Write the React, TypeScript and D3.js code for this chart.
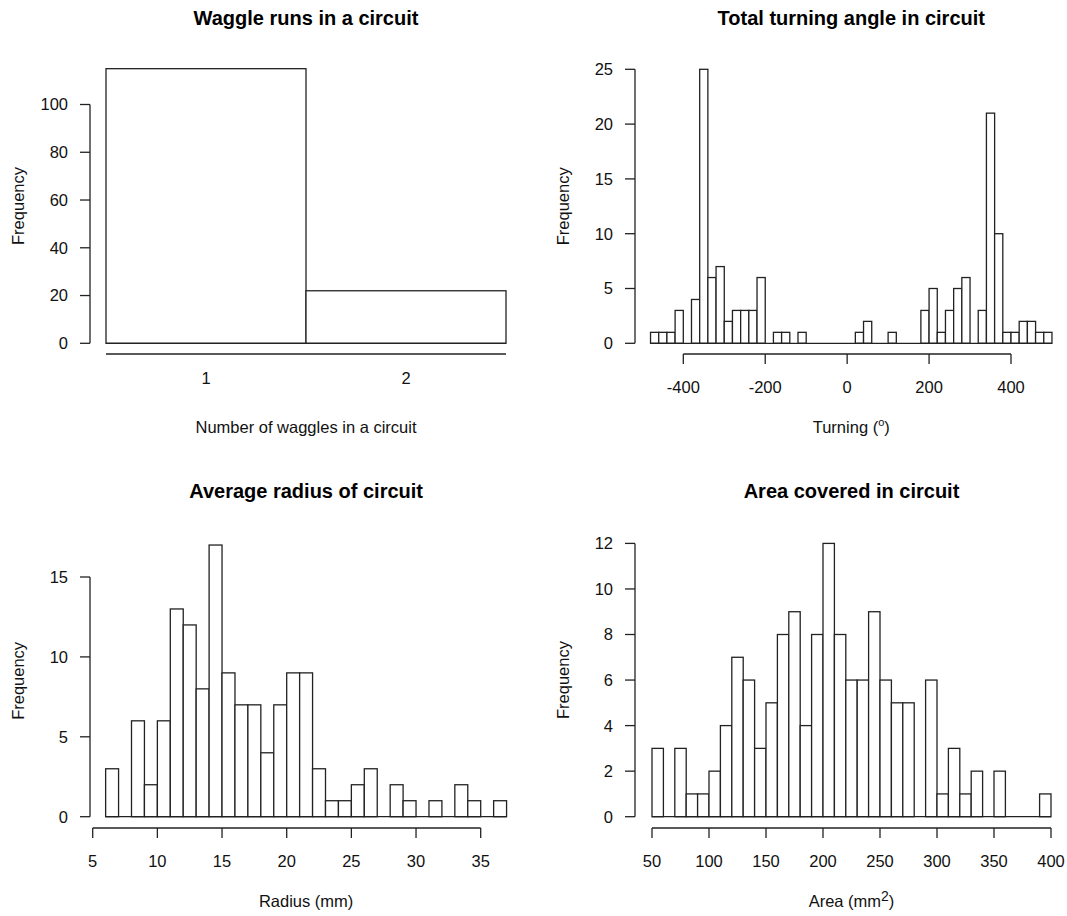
import React from "react";
import * as d3 from "d3";

// Waggle runs in a circuit
const waggleCategories = [1, 2];
const waggleCounts = [115, 22];

// Total turning angle (degrees), 20-degree bins starting at -480
const turningBreaks = d3.range(-480, 501, 20);
const turningCounts = [
  1, 1, 1, 3, 0, 4, 25, 6, 7, 2,
  3, 3, 3, 6, 0, 1, 1, 0, 1, 0,
  0, 0, 0, 0, 0, 1, 2, 0, 0, 1,
  0, 0, 0, 3, 5, 1, 3, 5, 6, 0,
  3, 21, 10, 1, 1, 2, 2, 1, 1,
];

// Average radius (mm), 1 mm bins starting at 6
const radiusBreaks = d3.range(6, 38, 1);
const radiusCounts = [
  3, 0, 6, 2, 6, 13, 12, 8, 17, 9,
  7, 7, 4, 7, 9, 9, 3, 1, 1, 2,
  3, 0, 2, 1, 0, 1, 0, 2, 1, 0, 1,
];

// Area covered (mm^2), 10 mm^2 bins starting at 50
const areaBreaks = d3.range(50, 401, 10);
const areaCounts = [
  3, 0, 3, 1, 1, 2, 4, 7, 6, 3,
  5, 8, 9, 4, 8, 12, 8, 6, 6, 9,
  6, 5, 5, 0, 6, 1, 3, 1, 2, 0,
  2, 0, 0, 0, 1,
];

const turningTicks = [-400, -200, 0, 200, 400];
const radiusTicks = [5, 10, 15, 20, 25, 30, 35];
const areaTicks = [50, 100, 150, 200, 250, 300, 350, 400];

const FONT = "'Liberation Sans', Arial, Helvetica, sans-serif";
const INK = "#222";
const TICK = 10;

type PanelProps = {
  title: string;
  xLabel: React.ReactNode;
  breaks: number[];
  counts: number[];
  xDomain: [number, number];
  xRange: [number, number];
  yDomain: [number, number];
  yRange: [number, number];
  yTicks: number[];
  xTicks: number[];
  xTickLabels?: string[];
  showXTicks: boolean;
  axisLine?: [number, number]; // x-axis extent in data units
  yAxisX: number;
  xAxisY: number;
  xTickLabelY: number;
  titleY: number;
};

const Panel = (p: PanelProps) => {
  const x = d3.scaleLinear().domain(p.xDomain).range(p.xRange);
  const y = d3.scaleLinear().domain(p.yDomain).range(p.yRange);
  const bins = p.counts.map((c, i) => ({ x0: p.breaks[i], x1: p.breaks[i + 1], c }));
  const x0 = x(p.breaks[0]);
  const x1 = x(p.breaks[p.breaks.length - 1]);
  const midX = (x0 + x1) / 2;
  const midY = (y(0) + y(d3.max(p.counts) as number)) / 2;
  const axisExt = p.axisLine ?? [p.xTicks[0], p.xTicks[p.xTicks.length - 1]];
  const yT0 = y(p.yTicks[0]);
  const yT1 = y(p.yTicks[p.yTicks.length - 1]);

  return (
    <g fontFamily={FONT}>
      <text x={midX} y={p.titleY} textAnchor="middle" fontSize={20} fontWeight="bold" fill="#000">
        {p.title}
      </text>

      {bins.map((b, i) =>
        b.c > 0 ? (
          <rect
            key={i}
            x={x(b.x0)}
            y={y(b.c)}
            width={x(b.x1) - x(b.x0)}
            height={y(0) - y(b.c)}
            fill="white"
            stroke={INK}
            strokeWidth={1.3}
          />
        ) : null
      )}
      {/* baseline between bars */}
      <line x1={x0} x2={x1} y1={y(0)} y2={y(0)} stroke={INK} strokeWidth={1.3} />

      {/* y axis */}
      <line x1={p.yAxisX} x2={p.yAxisX} y1={yT0} y2={yT1} stroke={INK} strokeWidth={1.3} />
      {p.yTicks.map((t) => (
        <g key={t}>
          <line x1={p.yAxisX - TICK} x2={p.yAxisX} y1={y(t)} y2={y(t)} stroke={INK} strokeWidth={1.3} />
          <text x={p.yAxisX - 22} y={y(t)} dy="0.36em" textAnchor="end" fontSize={16.5} fill="#111">
            {t}
          </text>
        </g>
      ))}
      <text
        transform={`translate(${p.yAxisX - 66.5},${midY}) rotate(-90)`}
        textAnchor="middle"
        fontSize={16.5}
        fill="#111"
      >
        Frequency
      </text>

      {/* x axis */}
      <line x1={x(axisExt[0])} x2={x(axisExt[1])} y1={p.xAxisY} y2={p.xAxisY} stroke={INK} strokeWidth={1.3} />
      {p.xTicks.map((t, i) => (
        <g key={t}>
          {p.showXTicks && (
            <line x1={x(t)} x2={x(t)} y1={p.xAxisY} y2={p.xAxisY + TICK} stroke={INK} strokeWidth={1.3} />
          )}
          <text x={x(t)} y={p.xTickLabelY} textAnchor="middle" fontSize={16.5} fill="#111">
            {p.xTickLabels ? p.xTickLabels[i] : t}
          </text>
        </g>
      ))}
      <text x={midX} y={p.xAxisY + 79} textAnchor="middle" fontSize={16.5} fill="#111">
        {p.xLabel}
      </text>
    </g>
  );
};

export default function App() {
  const waggleBreaks = [waggleCategories[0] - 0.5, ...waggleCategories.map((c) => c + 0.5)];
  return (
    <svg
      width={1067}
      height={916}
      style={{ position: "absolute", left: 0, top: 0, background: "white" }}
    >
      <Panel
        title="Waggle runs in a circuit"
        xLabel="Number of waggles in a circuit"
        breaks={waggleBreaks}
        counts={waggleCounts}
        xDomain={[0.5, 2.5]}
        xRange={[106, 506]}
        yDomain={[0, 100]}
        yRange={[343.3, 104.5]}
        yTicks={[0, 20, 40, 60, 80, 100]}
        xTicks={waggleCategories}
        showXTicks={false}
        axisLine={[0.5, 2.5]}
        yAxisX={90}
        xAxisY={354}
        xTickLabelY={383.5}
        titleY={24.5}
      />
      <Panel
        title="Total turning angle in circuit"
        xLabel={
          <>
            Turning (
            <tspan fontSize={11} dy={-7}>o</tspan>
            <tspan dy={7}>)</tspan>
          </>
        }
        breaks={turningBreaks}
        counts={turningCounts}
        xDomain={[-400, 400]}
        xRange={[683.3, 1011]}
        yDomain={[0, 25]}
        yRange={[343.3, 69.3]}
        yTicks={[0, 5, 10, 15, 20, 25]}
        xTicks={turningTicks}
        showXTicks={true}
        yAxisX={635}
        xAxisY={354}
        xTickLabelY={393}
        titleY={24.5}
      />
      <Panel
        title="Average radius of circuit"
        xLabel="Radius (mm)"
        breaks={radiusBreaks}
        counts={radiusCounts}
        xDomain={[5, 35]}
        xRange={[92.7, 480.7]}
        yDomain={[0, 15]}
        yRange={[816.7, 577]}
        yTicks={[0, 5, 10, 15]}
        xTicks={radiusTicks}
        showXTicks={true}
        yAxisX={90}
        xAxisY={828}
        xTickLabelY={867}
        titleY={498}
      />
      <Panel
        title="Area covered in circuit"
        xLabel={
          <>
            Area (mm
            <tspan fontSize={14} dy={-6}>2</tspan>
            <tspan dy={6}>)</tspan>
          </>
        }
        breaks={areaBreaks}
        counts={areaCounts}
        xDomain={[50, 400]}
        xRange={[652, 1051]}
        yDomain={[0, 12]}
        yRange={[816.7, 543.4]}
        yTicks={[0, 2, 4, 6, 8, 10, 12]}
        xTicks={areaTicks}
        showXTicks={true}
        yAxisX={635}
        xAxisY={828}
        xTickLabelY={867}
        titleY={498}
      />
    </svg>
  );
}
